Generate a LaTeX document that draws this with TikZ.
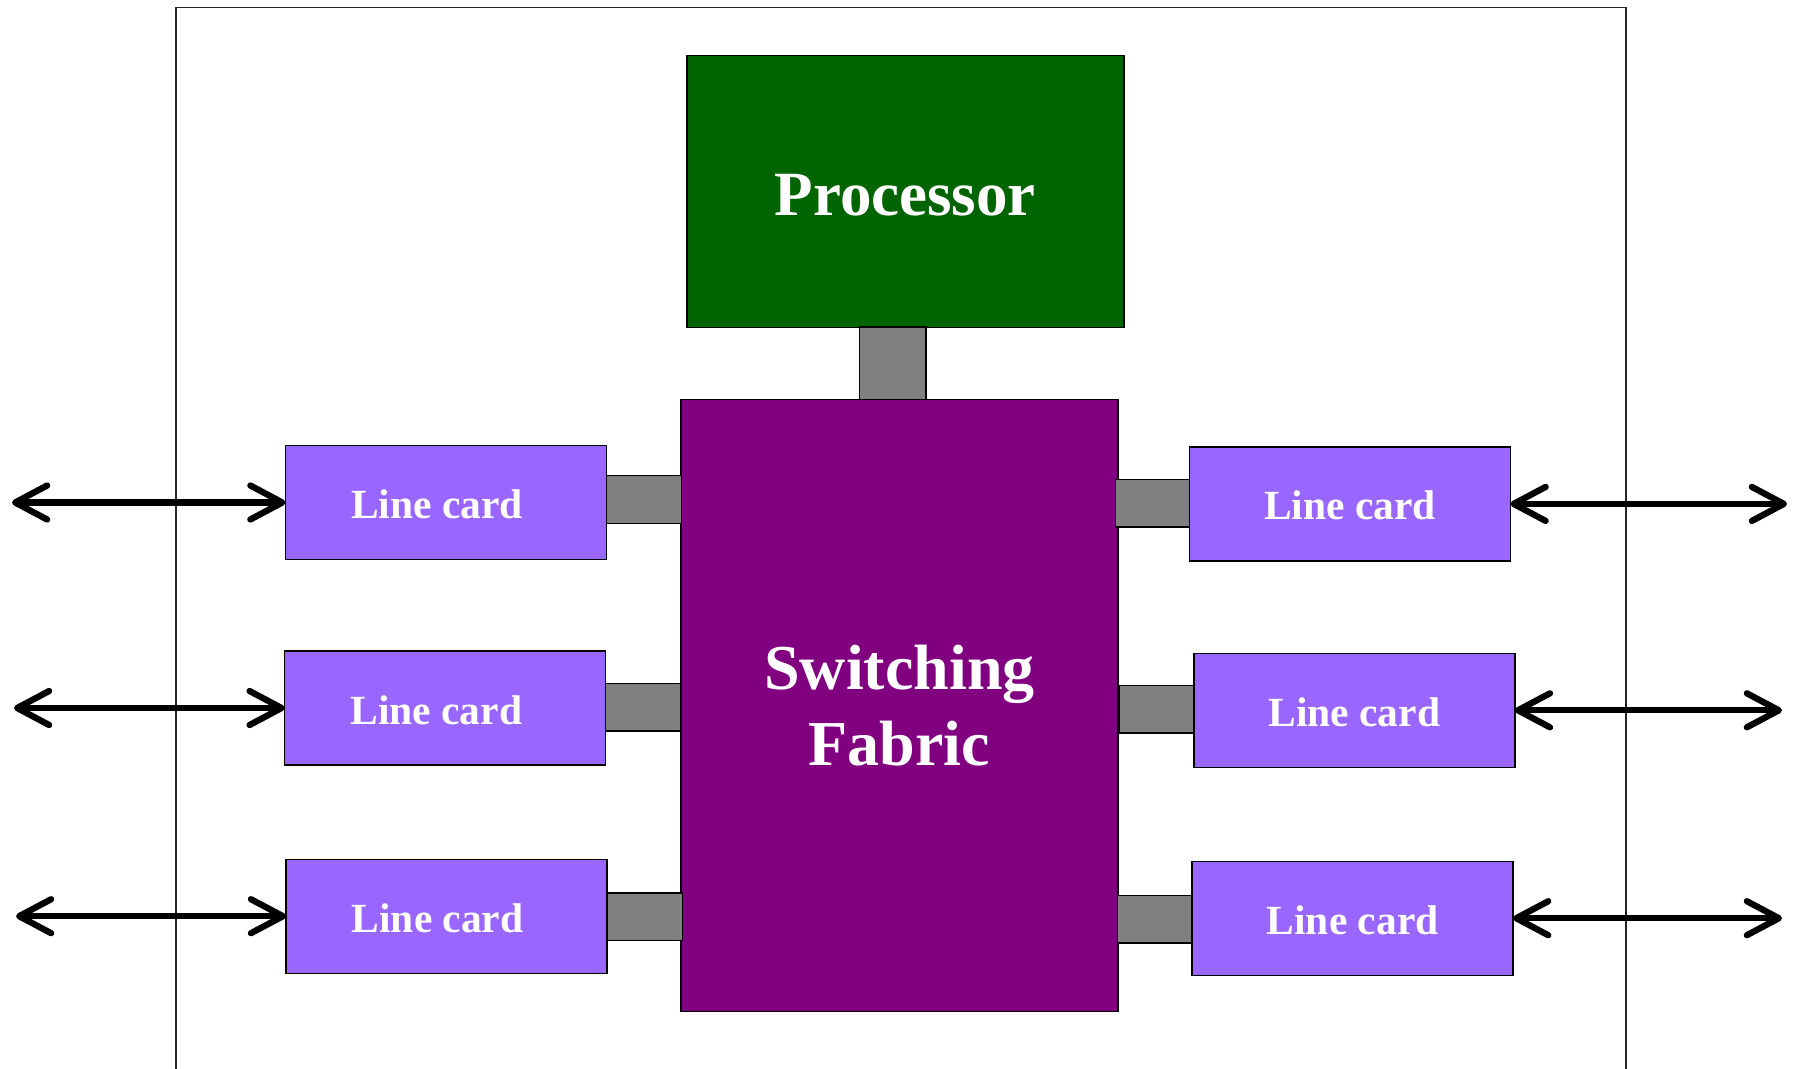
\documentclass[tikz,border=0pt]{standalone}
\usepackage{fontspec}
\setmainfont{Liberation Serif}
\usetikzlibrary{arrows.meta}

\definecolor{procgreen}{HTML}{006400}
\definecolor{fabricpurple}{HTML}{800080}
\definecolor{cardviolet}{HTML}{9966FF}
\definecolor{linkgray}{HTML}{808080}

\tikzset{
  block/.style={draw=black, line width=1.4pt, inner sep=0pt, outer sep=0pt,
    text=white, font=\bfseries},
  procbox/.style={block, fill=procgreen, minimum width=437pt, minimum height=272pt,
    text height=48pt, text depth=0pt,
    font=\fontsize{63}{75}\selectfont\bfseries},
  fabricbox/.style={block, fill=fabricpurple, minimum width=437pt, minimum height=612pt,
    align=center, font=\fontsize{64}{76}\selectfont\bfseries},
  cardbox/.style={block, fill=cardviolet, minimum width=321pt, minimum height=114pt,
    text height=32pt, text depth=0pt,
    font=\fontsize{41.5}{48}\selectfont\bfseries},
  linkbox/.style={draw=black, line width=1.4pt, fill=linkgray, inner sep=0pt,
    outer sep=0pt, minimum width=#1},
  hlink/.style={linkbox=75pt, minimum height=47.5pt},
  vlink/.style={linkbox=66.5pt, minimum height=72.3pt},
  port/.style={line width=6.3pt, line cap=round,
    {Straight Barb[length=32pt, width=34pt, round]}-{Straight Barb[length=32pt, width=34pt, round]}},
  chassis/.style={line width=1.3pt, draw=black!85}
}

\newcommand{\leftcardtext}{Line card\hspace*{18pt}}

\begin{document}
\begin{tikzpicture}[x=1pt, y=-1pt]
  \useasboundingbox (0,0) rectangle (1803,1068);

  % router chassis (open at the bottom)
  \draw[chassis] (176,1070) -- (176,7.5) -- (1626,7.5) -- (1626,1070);

  % core blocks
  \node[fabricbox] (fabric) at (899.5,705.3) {Switching\\Fabric};
  \node[procbox]   (proc)   at (905.3,191.2) {Processor};

  % backplane links
  \node[vlink] (lproc) at (892.6,363.2) {};
  \node[hlink] (ll1) at (643.9,499.5) {};
  \node[hlink] (ll2) at (643.0,707.3) {};
  \node[hlink] (ll3) at (644.7,916.9) {};
  \node[hlink] (lr1) at (1153.2,503.1) {};
  \node[hlink] (lr2) at (1156.9,709.2) {};
  \node[hlink] (lr3) at (1155.2,919.2) {};

  % line cards
  \node[cardbox] (c1) at (446.0,502.5) {\leftcardtext};
  \node[cardbox] (c2) at (445.2,708.0) {\leftcardtext};
  \node[cardbox] (c3) at (446.6,916.2) {\leftcardtext};
  \node[cardbox] (c4) at (1350.0,503.9) {Line card};
  \node[cardbox] (c5) at (1354.3,710.3) {Line card};
  \node[cardbox] (c6) at (1352.6,918.2) {Line card};

  % external ports
  \coordinate (p1) at (12,502.5);
  \coordinate (p2) at (14,708.0);
  \coordinate (p3) at (16,916.2);
  \coordinate (p4) at (1787,503.9);
  \coordinate (p5) at (1782,710.3);
  \coordinate (p6) at (1782,918.2);

  \draw[port] (p1) -- (c1.west);
  \draw[port] (p2) -- (c2.west);
  \draw[port] (p3) -- (c3.west);
  \draw[port] (c4.east) -- (p4);
  \draw[port] (c5.east) -- (p5);
  \draw[port] (c6.east) -- (p6);
\end{tikzpicture}
\end{document}
